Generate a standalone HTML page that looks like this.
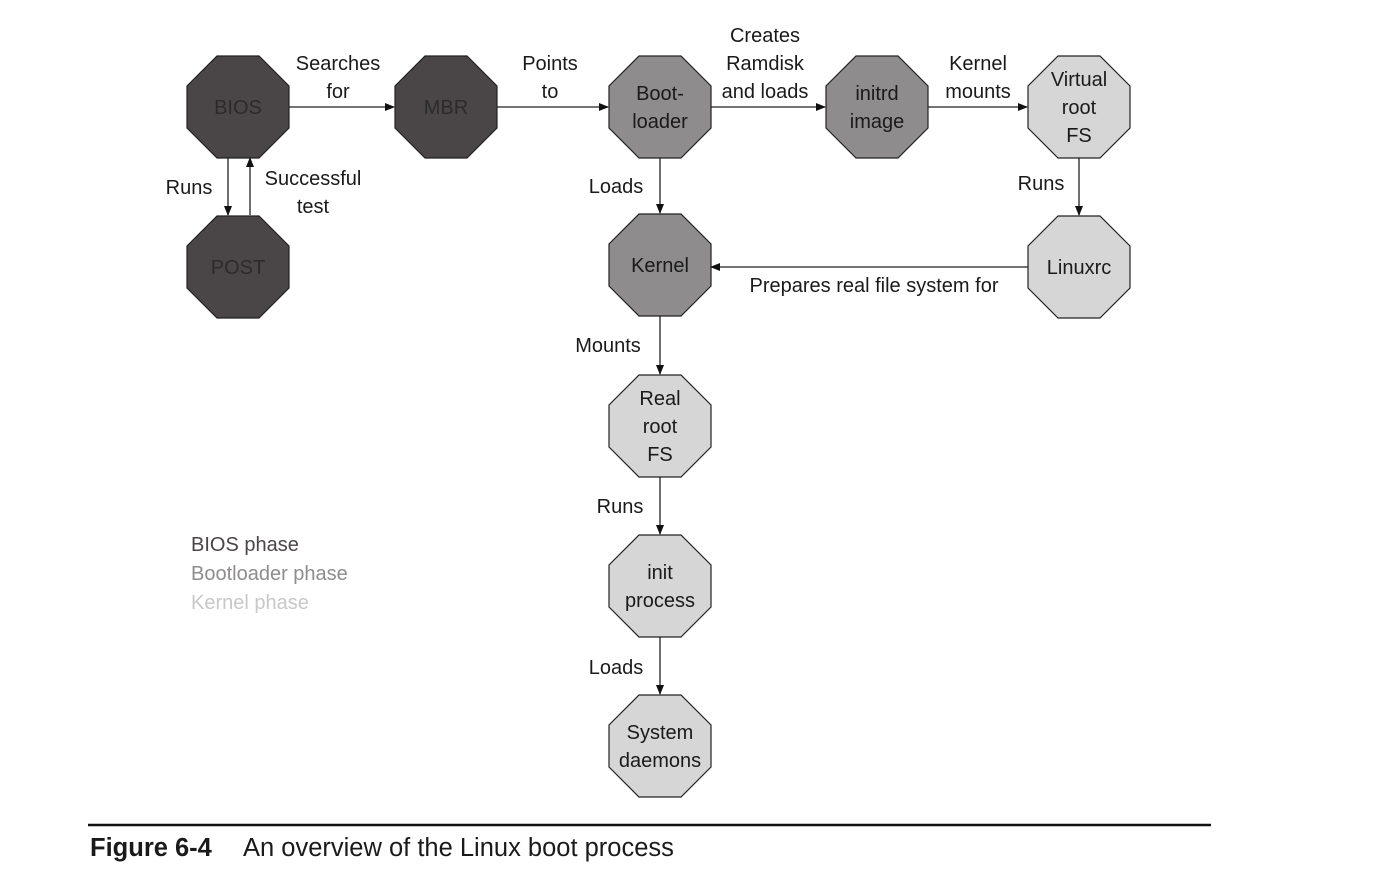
<!DOCTYPE html>
<html><head><meta charset="utf-8"><style>
html,body{margin:0;padding:0;background:#fff;}
svg{display:block;font-family:"Liberation Sans",sans-serif;}
text{font-size:20px;fill:#1a1a1a;text-anchor:middle;}
</style></head><body>
<svg width="1377" height="883" viewBox="0 0 1377 883">
<defs><marker id="ah" markerWidth="10" markerHeight="10" refX="9" refY="5" orient="auto" markerUnits="userSpaceOnUse"><path d="M0,1 L10,5 L0,9 Z" fill="#111"/></marker></defs>
<g id="nodes"></g>
<g id="edges" stroke="#222" stroke-width="1.3" fill="none">
<line x1="289" y1="107" x2="394" y2="107" marker-end="url(#ah)"/>
<line x1="497" y1="107" x2="608" y2="107" marker-end="url(#ah)"/>
<line x1="711" y1="107" x2="825" y2="107" marker-end="url(#ah)"/>
<line x1="928" y1="107" x2="1027" y2="107" marker-end="url(#ah)"/>
<line x1="228" y1="158" x2="228" y2="215" marker-end="url(#ah)"/>
<line x1="250" y1="215" x2="250" y2="158" marker-end="url(#ah)"/>
<line x1="660" y1="158" x2="660" y2="213" marker-end="url(#ah)"/>
<line x1="1079" y1="158" x2="1079" y2="215" marker-end="url(#ah)"/>
<line x1="1028" y1="267" x2="711" y2="267" marker-end="url(#ah)"/>
<line x1="660" y1="316" x2="660" y2="374" marker-end="url(#ah)"/>
<line x1="660" y1="477" x2="660" y2="534" marker-end="url(#ah)"/>
<line x1="660" y1="637" x2="660" y2="694" marker-end="url(#ah)"/>
</g>
<g>
<text x="338" y="70">Searches</text><text x="338" y="98">for</text>
<text x="550" y="70">Points</text><text x="550" y="98">to</text>
<text x="765" y="42">Creates</text><text x="765" y="70">Ramdisk</text><text x="765" y="98">and loads</text>
<text x="978" y="70">Kernel</text><text x="978" y="98">mounts</text>
<text x="189" y="194">Runs</text>
<text x="313" y="185">Successful</text><text x="313" y="213">test</text>
<text x="616" y="193">Loads</text>
<text x="1041" y="190">Runs</text>
<text x="874" y="292">Prepares real file system for</text>
<text x="608" y="352">Mounts</text>
<text x="620" y="513">Runs</text>
<text x="616" y="674">Loads</text>
</g>
<g>
<text x="191" y="551" style="text-anchor:start;fill:#4a4647">BIOS phase</text>
<text x="191" y="580" style="text-anchor:start;fill:#8e8c8c">Bootloader phase</text>
<text x="191" y="609" style="text-anchor:start;fill:#c8c8c8">Kernel phase</text>
</g>
<line x1="88" y1="825" x2="1211" y2="825" stroke="#111" stroke-width="2.5"/>
<text x="90" y="856" style="text-anchor:start;font-size:25.5px"><tspan font-weight="bold">Figure 6-4</tspan><tspan x="243">An overview of the Linux boot process</tspan></text>
</svg>
<script>
const nodeNames=['bios','mbr','bootloader','initrd','virtual-root-fs','post','kernel','linuxrc','real-root-fs','init-process','system-daemons'];
const nodeLabels=[['BIOS'],['MBR'],['Boot-','loader'],['initrd','image'],['Virtual','root','FS'],['POST'],['Kernel'],['Linuxrc'],['Real','root','FS'],['init','process'],['System','daemons']];
const nodePhase=[0,0,1,1,2,0,1,2,2,2,2];
const cx=[238,446,660,877,1079,238,660,1079,660,660,660];
const cy=[107,107,107,107,107,267,265,267,426,586,746];
const fills=['#4a4647','#8e8c8c','#d6d6d6'];
const tcol=['#2b2b2b','#1a1a1a','#1a1a1a'];
const g=document.getElementById('nodes');
const NS='http://www.w3.org/2000/svg';
const R=51,s=21;
nodeNames.forEach((n,i)=>{
  const x=cx[i],y=cy[i];
  const grp=document.createElementNS(NS,'g');
  
  
  const p=document.createElementNS(NS,'polygon');
  p.setAttribute('points',[[x-s,y-R],[x+s,y-R],[x+R,y-s],[x+R,y+s],[x+s,y+R],[x-s,y+R],[x-R,y+s],[x-R,y-s]].map(a=>a.join(',')).join(' '));
  p.setAttribute('fill',fills[nodePhase[i]]);
  p.setAttribute('stroke','#222');p.setAttribute('stroke-width','1.2');
  
  
  grp.appendChild(p);
  const L=nodeLabels[i];
  L.forEach((t,k)=>{
    const te=document.createElementNS(NS,'text');
    te.setAttribute('x',x);
    te.setAttribute('y',y+7+(k-(L.length-1)/2)*28);
    te.style.fill=tcol[nodePhase[i]];
    te.textContent=t;
    grp.appendChild(te);
  });
  g.appendChild(grp);
});
</script>
</body></html>
